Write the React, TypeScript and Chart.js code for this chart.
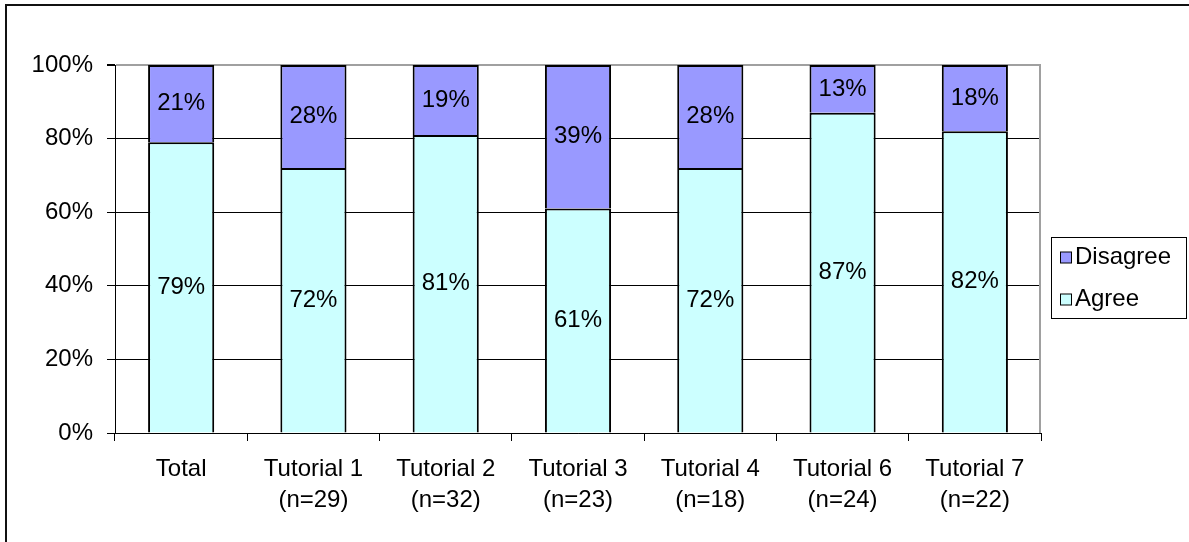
import React, { useEffect, useRef } from "react";
import { Chart, registerables } from "chart.js";

Chart.register(...registerables);

const categories: string[][] = [
  ["Total"],
  ["Tutorial 1", "(n=29)"],
  ["Tutorial 2", "(n=32)"],
  ["Tutorial 3", "(n=23)"],
  ["Tutorial 4", "(n=18)"],
  ["Tutorial 6", "(n=24)"],
  ["Tutorial 7", "(n=22)"],
];
const agree: number[] = [79, 72, 81, 61, 72, 87, 82];
const disagree: number[] = [21, 28, 19, 39, 28, 13, 18];
const yTicks: number[] = [0, 20, 40, 60, 80, 100];

const FONT = "'Liberation Sans', Arial, sans-serif";
const FONT_SIZE = 24;
const W = 1189;
const H = 542;

// Percentage text centred in each stacked segment
const valueLabels = {
  id: "valueLabels",
  afterDatasetsDraw(chart: any) {
    const ctx = chart.ctx;
    ctx.save();
    ctx.font = `${FONT_SIZE}px ${FONT}`;
    ctx.fillStyle = "#000";
    ctx.textAlign = "center";
    ctx.textBaseline = "middle";
    chart.data.datasets.forEach((ds: any, di: number) => {
      const meta = chart.getDatasetMeta(di);
      meta.data.forEach((el: any, i: number) => {
        const { x, y, base } = el.getProps(["x", "y", "base"], true);
        ctx.fillText(`${ds.data[i]}%`, x, (y + base) / 2);
      });
    });
    ctx.restore();
  },
};

// Grey plot-area edge on the right
const plotFrame = {
  id: "plotFrame",
  beforeDatasetsDraw(chart: any) {
    const { ctx, chartArea } = chart;
    ctx.save();
    ctx.strokeStyle = "#a0a0a0";
    ctx.lineWidth = 2;
    ctx.beginPath();
    ctx.moveTo(chartArea.right - 1, chartArea.top);
    ctx.lineTo(chartArea.right - 1, chartArea.bottom);
    ctx.stroke();
    ctx.restore();
  },
};

// Outer frame lines and the boxed legend on the right
const frameAndLegend = {
  id: "frameAndLegend",
  afterDraw(chart: any) {
    const ctx = chart.ctx;
    ctx.save();
    ctx.strokeStyle = "#111";
    ctx.lineWidth = 2;
    ctx.beginPath();
    ctx.moveTo(6, H);
    ctx.lineTo(6, 5);
    ctx.lineTo(W, 5);
    ctx.stroke();

    // legend box
    const bx = 1051.5;
    const by = 237.5;
    ctx.lineWidth = 1;
    ctx.strokeStyle = "#000";
    ctx.fillStyle = "#fff";
    ctx.fillRect(bx, by, 135, 81);
    ctx.strokeRect(bx, by, 135, 81);

    const items = [chart.data.datasets[1], chart.data.datasets[0]];
    const rows = [257.5, 299.5];
    ctx.font = `${FONT_SIZE}px ${FONT}`;
    ctx.textAlign = "left";
    ctx.textBaseline = "middle";
    items.forEach((ds: any, i: number) => {
      const y = rows[i];
      ctx.fillStyle = ds.backgroundColor;
      ctx.fillRect(1060.5, y - 5.5, 11, 11);
      ctx.strokeStyle = "#000";
      ctx.strokeRect(1060.5, y - 5.5, 11, 11);
      ctx.fillStyle = "#000";
      ctx.fillText(ds.label, 1075, y);
    });
    ctx.restore();
  },
};

export default function App() {
  const canvasRef = useRef<HTMLCanvasElement | null>(null);

  useEffect(() => {
    document.body.style.margin = "0";
    document.body.style.overflow = "hidden";
    const canvas = canvasRef.current;
    if (!canvas) return;

    const chart = new Chart(canvas, {
      type: "bar",
      data: {
        labels: categories,
        datasets: [
          {
            label: "Agree",
            data: agree,
            backgroundColor: "#CCFFFF",
            borderColor: "#000",
            borderWidth: 2,
            stack: "s",
          },
          {
            label: "Disagree",
            data: disagree,
            backgroundColor: "#9999FF",
            borderColor: "#000",
            borderWidth: 2,
            stack: "s",
          },
        ],
      },
      options: {
        responsive: false,
        animation: false,
        events: [],
        layout: { padding: { top: 65, right: 148, left: 0, bottom: 0 } },
        datasets: { bar: { categoryPercentage: 1, barPercentage: 0.5 } },
        plugins: { legend: { display: false }, tooltip: { enabled: false } },
        scales: {
          x: {
            stacked: true,
            afterFit(scale: any) {
              scale.height = 109;
            },
            grid: {
              offset: true,
              drawOnChartArea: false,
              drawTicks: true,
              tickLength: 8,
              color: "#000",
            },
            border: { color: "#000", width: 1 },
            ticks: {
              color: "#000",
              padding: 13,
              maxRotation: 0,
              autoSkip: false,
              font: { family: FONT, size: FONT_SIZE, lineHeight: 1.3 },
            },
          },
          y: {
            stacked: true,
            min: 0,
            max: 100,
            afterFit(scale: any) {
              scale.width = 115;
            },
            afterBuildTicks(scale: any) {
              scale.ticks = yTicks.map((v) => ({ value: v }));
            },
            grid: {
              tickLength: 8,
              color: (c: any) => (c.tick && c.tick.value === 100 ? "#a0a0a0" : "#000"),
              lineWidth: (c: any) => (c.tick && c.tick.value === 100 ? 2 : 1),
              tickColor: "#000",
            },
            border: { color: "#000", width: 1 },
            ticks: {
              color: "#000",
              padding: 14,
              font: { family: FONT, size: FONT_SIZE },
              callback: (v: any) => `${v}%`,
            },
          },
        },
      },
      plugins: [plotFrame, valueLabels, frameAndLegend],
    });

    return () => chart.destroy();
  }, []);

  return (
    <canvas
      ref={canvasRef}
      width={W}
      height={H}
      style={{ display: "block", width: W, height: H, background: "#fff" }}
    />
  );
}
